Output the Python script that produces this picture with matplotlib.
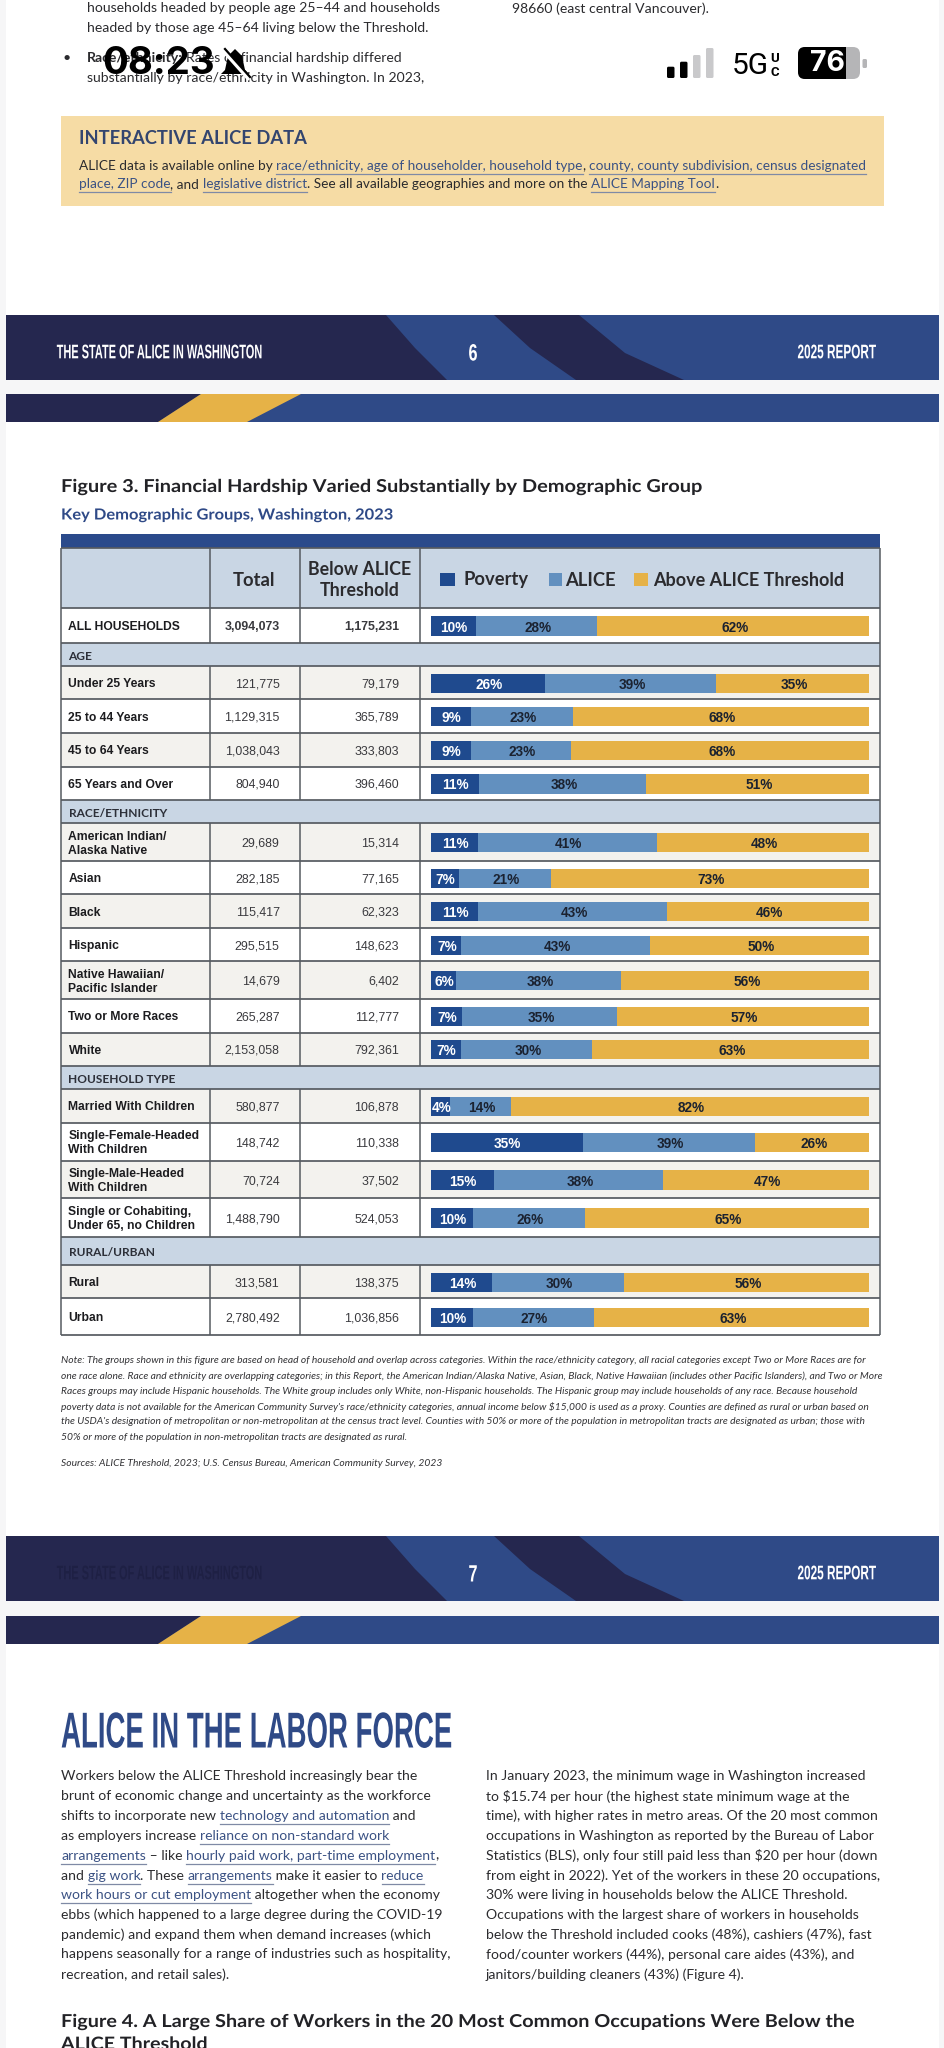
# ALICE report page: Figure 3 table with stacked bars, plus surrounding page furniture
import matplotlib
matplotlib.use("Agg")
import matplotlib.pyplot as plt
from matplotlib.patches import Rectangle, Polygon, FancyBboxPatch
from matplotlib.patheffects import AbstractPathEffect
from matplotlib.transforms import Affine2D

# ---- data ----
GROUPS = ["ALL HOUSEHOLDS", "Under 25 Years", "25 to 44 Years", "45 to 64 Years", "65 Years and Over",
          "American Indian/\nAlaska Native", "Asian", "Black", "Hispanic",
          "Native Hawaiian/\nPacific Islander", "Two or More Races", "White",
          "Married With Children", "Single-Female-Headed\nWith Children",
          "Single-Male-Headed\nWith Children", "Single or Cohabiting,\nUnder 65, no Children",
          "Rural", "Urban"]
TOTALS = ["3,094,073", "121,775", "1,129,315", "1,038,043", "804,940", "29,689", "282,185", "115,417",
          "295,515", "14,679", "265,287", "2,153,058", "580,877", "148,742", "70,724", "1,488,790",
          "313,581", "2,780,492"]
BELOW = ["1,175,231", "79,179", "365,789", "333,803", "396,460", "15,314", "77,165", "62,323",
         "148,623", "6,402", "112,777", "792,361", "106,878", "110,338", "37,502", "524,053",
         "138,375", "1,036,856"]
# bar lengths (the printed labels are rounded)
POVERTY = [10.25, 26.1, 9.1, 9.1, 11.1, 10.9, 6.5, 10.9, 7.0, 5.9, 7.25, 6.9, 4.4, 34.75, 14.5, 9.6, 14.1, 9.6]
ALICE = [27.75, 39.0, 23.4, 23.0, 38.1, 40.6, 20.9, 43.0, 43.1, 37.6, 35.25, 29.9, 14.0, 39.25, 38.5, 25.5, 30.0, 27.6]
ABOVE = [62.0, 34.9, 67.5, 67.9, 50.75, 48.5, 72.6, 46.1, 49.9, 56.5, 57.5, 63.25, 81.6, 26.0, 47.0, 64.9, 55.9, 62.75]
POVERTY_LABELS = [10, 26, 9, 9, 11, 11, 7, 11, 7, 6, 7, 7, 4, 35, 15, 10, 14, 10]
ALICE_LABELS = [28, 39, 23, 23, 38, 41, 21, 43, 43, 38, 35, 30, 14, 39, 38, 26, 30, 27]
ABOVE_LABELS = [62, 35, 68, 68, 51, 48, 73, 46, 50, 56, 57, 63, 82, 26, 47, 65, 56, 63]
SECTIONS = {1: "AGE", 6: "RACE/ETHNICITY", 14: "HOUSEHOLD TYPE", 19: "RURAL/URBAN"}  # table row -> title

# ---- layout, in page pixels ----
W, H = 945, 2048
ROW_EDGES = [608, 643, 666, 699.3, 733.3, 766.7, 800, 823.3, 861, 894.3, 928, 961.3, 999, 1032.7,
             1066, 1089.3, 1122.7, 1160.7, 1198.3, 1236.7, 1265, 1298.3, 1335.3]
TABLE_L, TABLE_R = 61, 880
COLS = [209.5, 300, 419.6]
BAR_L, BAR_R = 430.6, 869.4
BAR_H = 19.3
GREY_ROWS = ["Under 25 Years", "45 to 64 Years", "American Indian/\nAlaska Native", "Black",
             "Native Hawaiian/\nPacific Islander", "White", "Married With Children",
             "Single-Male-Headed\nWith Children", "Rural"]

NAVY = "#25274f"
BLUE = "#2f4a87"
C_POV, C_ALICE, C_ABOVE = "#1f4a8e", "#6290bf", "#e6b247"
HEAD_BG = "#c9d6e4"
LINE = "#565b61"
INK = "#2b2b2e"
LINK = "#3b5284"
SANS = "Liberation Sans"


class Squeeze(AbstractPathEffect):
    # scales a text's glyphs sideways, there is no condensed or spaced face installed
    def __init__(self, sx):
        self.sx = sx

    def draw_path(self, renderer, gc, tpath, affine, rgbFace=None):
        renderer.draw_path(gc, tpath, Affine2D().scale(self.sx, 1) + affine, rgbFace)


fig = plt.figure(figsize=(W / 100, H / 100), dpi=100, facecolor="#f6f6f7")
page = fig.add_axes([0, 0, 1, 1])
page.set_xlim(0, W)
page.set_ylim(H, 0)
page.axis("off")
rend = fig.canvas.get_renderer()


def rect(x0, y0, x1, y1, color, z=1):
    page.add_patch(Rectangle((x0, y0), x1 - x0, y1 - y0, facecolor=color, edgecolor="none", zorder=z))


def txt(x, y, s, size, color=INK, family="Lato", weight="normal", ha="left", va="center", **kw):
    return page.text(x, y, s, fontsize=size, color=color, family=family, weight=weight, ha=ha, va=va, zorder=6, **kw)


def width(s, size, family, weight="normal"):
    # bars around the string so that edge spaces count
    t1 = page.text(0, 0, "|" + s + "|", fontsize=size, family=family, weight=weight)
    t2 = page.text(0, 0, "||", fontsize=size, family=family, weight=weight)
    w = t1.get_window_extent(rend).width - t2.get_window_extent(rend).width
    t1.remove()
    t2.remove()
    return w


def fitted(x0, x1, y, s, size, color, family=SANS):
    # baseline-anchored, scaled sideways to run from x0 to x1
    sx = (x1 - x0) / width(s, size, family, "bold")
    t = txt(x0, y, s, size, color, family=family, weight="bold", va="baseline")
    t.set_path_effects([Squeeze(sx)])


def runs(x, y, parts, size, family="Lato"):
    # parts of a line; the second item marks an underlined link
    for s, is_link in parts:
        w = width(s, size, family)
        txt(x, y, s, size, LINK if is_link else INK, family=family)
        if is_link:
            page.plot([x, x + w], [y + 8, y + 8], color="#7f8aa5", lw=0.9, zorder=5)
        x += w


def band(y0, title, title_color, number):
    y1 = y0 + 65
    rect(6, y0, 938.5, y1, BLUE, 2)
    page.add_patch(Polygon([(6, y0), (386, y0), (415, y0 + 33), (447, y1), (6, y1)], fc=NAVY, ec="none", zorder=3))
    verts = [(494, y0), (530, y0 + 33), (576, y1), (684, y1), (625, y0 + 38), (579, y0), (494, y0)]
    page.add_patch(Polygon(verts, fc=NAVY, ec="none", zorder=3))
    fitted(56.7, 263, y0 + 43.3, title, 14.2, title_color)
    fitted(468.5, 477.5, y0 + 45.5, number, 17, "white")
    fitted(797.5, 876, y0 + 43.3, "2025 REPORT", 14.2, "white")


def strip(y0):
    y1 = y0 + 28
    rect(6, y0, 938.5, y1, BLUE, 2)
    page.add_patch(Polygon([(6, y0), (201, y0), (158, y1), (6, y1)], fc=NAVY, ec="none", zorder=3))
    page.add_patch(Polygon([(201, y0), (301, y0), (247, y1), (158, y1)], fc=C_ABOVE, ec="none", zorder=3))


# ---- white pages between the bands ----
rect(6, 0, 938.5, 380, "white", 0)
rect(6, 422, 938.5, 1601, "white", 0)
rect(6, 1644, 938.5, H, "white", 0)

# ---- text left over from the page above ----
BODY = 10.1
txt(87, 8, "households headed by people age 25\u201344 and households", BODY)
txt(87, 28, "headed by those age 45\u201364 living below the Threshold.", BODY)
txt(63, 58, "\u2022", BODY)
txt(87, 58, "Race/ethnicity:", BODY, weight="bold")
txt(186, 58, "Rates of financial hardship differed", BODY)
txt(87, 78, "substantially by race/ethnicity in Washington. In 2023,", BODY)
txt(512, 9, "98660 (east central Vancouver).", BODY)

# ---- phone status bar over the page ----
txt(102, 64, "08:23", 27.7, "black", family="Inter", weight="bold").set_zorder(8)
page.add_patch(Polygon([(235, 49), (228, 56), (225, 70), (221, 74), (249, 74), (245, 70), (242, 56)], fc="black", ec="none", zorder=8))
page.plot([223, 248], [50, 78], color="white", lw=3, zorder=8)
page.plot([225, 250], [49, 77], color="black", lw=1.6, zorder=8)
for x0, top, col in [(667, 66.7, "black"), (680, 61.7, "black"), (693, 55, "#c9c9cb"), (706, 48, "#c9c9cb")]:
    page.add_patch(FancyBboxPatch((x0 + 1.5, top + 1.5), 4.5, 75 - top, boxstyle="round,pad=1.5", fc=col, ec="none", zorder=8))
txt(731.5, 65.5, "5G", 21.5, "black", family="Roboto").set_zorder(8)
txt(770.5, 58.5, "U", 9.5, "black", family="Roboto", weight="bold").set_zorder(8)
txt(770.5, 72.5, "C", 9.5, "black", family="Roboto", weight="bold").set_zorder(8)
page.add_patch(FancyBboxPatch((805, 54), 48, 18, boxstyle="round,pad=7", fc="#b5b5b7", ec="none", zorder=8))
black_part = FancyBboxPatch((805, 54), 48, 18, boxstyle="round,pad=7", fc="black", ec="none", zorder=8)
page.add_patch(black_part)
black_part.set_clip_path(Rectangle((790, 40), 56, 50, transform=page.transData))
page.add_patch(FancyBboxPatch((864, 60.5), 1.5, 6, boxstyle="round,pad=1.5", fc="#b5b5b7", ec="none", zorder=8))
txt(827.5, 63.5, "76", 20.5, "white", family="Inter", weight="bold", ha="center").set_zorder(9)

# ---- interactive data box ----
rect(61, 115.7, 884, 205.7, "#f6dca5", 1)
txt(79, 138, "INTERACTIVE ALICE DATA", 13.2, "#33456f", weight="bold")
runs(79, 166, [("ALICE data is available online by ", False),
               ("race/ethnicity, age of householder, household type", True), (", ", False),
               ("county, county subdivision, census designated", True)], 9.8)
runs(79, 184, [("place, ZIP code", True), (", and ", False), ("legislative district", True),
               (". See all available geographies and more on the ", False), ("ALICE Mapping Tool", True),
               (".", False)], 9.8)

band(315, "THE STATE OF ALICE IN WASHINGTON", "white", "6")
strip(394)
band(1536, "THE STATE OF ALICE IN WASHINGTON", "#1e2044", "7")
strip(1616)

# ---- figure 3 heading ----
fitted(61, 704, 492, "Figure 3. Financial Hardship Varied Substantially by Demographic Group", 12.8, "#222226", "Lato")
fitted(61, 393, 519.5, "Key Demographic Groups, Washington, 2023", 11, BLUE, "Lato")

# ---- table ----
rect(TABLE_L, 534, TABLE_R, 547.7, "#2a4a8b", 2)
rect(TABLE_L, 547.7, TABLE_R, ROW_EDGES[0], HEAD_BG, 2)
txt(254, 580, "Total", 13.2, weight="bold", ha="center")
txt(360, 569.5, "Below ALICE", 12.8, weight="bold", ha="center")
txt(360, 591, "Threshold", 12.8, weight="bold", ha="center")
rect(440.4, 572.7, 455, 586, C_POV, 3)
txt(463.5, 580, "Poverty", 13.2, weight="bold")
rect(549, 572.7, 562, 586, C_ALICE, 3)
txt(565.5, 580, "ALICE", 13.2, weight="bold")
rect(634, 572.7, 648, 586, C_ABOVE, 3)
txt(652.7, 580, "Above ALICE Threshold", 13, weight="bold")

centres = []
row = 0
for i in range(len(ROW_EDGES) - 1):
    top, bot = ROW_EDGES[i], ROW_EDGES[i + 1]
    if i in SECTIONS:
        rect(TABLE_L, top, TABLE_R, bot, HEAD_BG, 2)
        txt(68.5, (top + bot) / 2 + 1.5, SECTIONS[i], 8.6, "#2c2f38", weight="bold")
        continue
    centre = (top + bot) / 2
    centres.append(centre)
    if GROUPS[row] in GREY_ROWS:
        rect(TABLE_L, top, TABLE_R, bot, "#f3f2ee", 2)
    bold = "bold" if row == 0 else "normal"
    txt(68.5, centre + 1.5, GROUPS[row], 8.7, "#1c1c1f", family=SANS, weight="bold", linespacing=1.2)
    txt(279.7, centre + 1.5, TOTALS[row], 8.9, "#3a3a3e", family=SANS, weight=bold, ha="right")
    txt(399, centre + 1.5, BELOW[row], 8.9, "#3a3a3e", family=SANS, weight=bold, ha="right")
    for c in COLS:
        page.plot([c, c], [top, bot], color=LINE, lw=1.1, zorder=4, solid_capstyle="butt")
    row += 1

for y in ROW_EDGES + [547.7]:
    page.plot([TABLE_L, TABLE_R], [y, y], color=LINE, lw=1.25, zorder=4, solid_capstyle="butt")
for c in COLS:
    page.plot([c, c], [547.7, ROW_EDGES[0]], color=LINE, lw=1.1, zorder=4, solid_capstyle="butt")
for x in [TABLE_L, TABLE_R]:
    page.plot([x, x], [547.7, ROW_EDGES[-1]], color=LINE, lw=1.1, zorder=4, solid_capstyle="butt")

# stacked bars: x is percent of households, y shares the page's pixel scale
bars = fig.add_axes([BAR_L / W, 0, (BAR_R - BAR_L) / W, 1])
bars.set_xlim(0, 100)
bars.set_ylim(H, 0)
bars.axis("off")
bars.patch.set_alpha(0)
ys = [c + 0.5 for c in centres]
left_alice = POVERTY
left_above = [p + a for p, a in zip(POVERTY, ALICE)]
bars.barh(ys, POVERTY, height=BAR_H, color=C_POV)
bars.barh(ys, ALICE, left=left_alice, height=BAR_H, color=C_ALICE)
bars.barh(ys, ABOVE, left=left_above, height=BAR_H, color=C_ABOVE)
for i, y in enumerate(ys):
    lab = dict(fontsize=9.8, family=SANS, weight="bold", ha="center", va="center_baseline")
    bars.text(POVERTY[i] / 2 + 0.2, y, f"{POVERTY_LABELS[i]}%", color="white", **lab)
    bars.text(left_alice[i] + ALICE[i] / 2 + 0.3, y, f"{ALICE_LABELS[i]}%", color="#1b2230", **lab)
    bars.text(left_above[i] + ABOVE[i] / 2 + 0.3, y, f"{ABOVE_LABELS[i]}%", color="#1b2230", **lab)

# ---- notes ----
NOTE_LINES = [
    "Note: The groups shown in this figure are based on head of household and overlap across categories. Within the race/ethnicity category, all racial categories except Two or More Races are for",
    "one race alone. Race and ethnicity are overlapping categories; in this Report, the American Indian/Alaska Native, Asian, Black, Native Hawaiian (includes other Pacific Islanders), and Two or More",
    "Races groups may include Hispanic households. The White group includes only White, non-Hispanic households. The Hispanic group may include households of any race. Because household",
    "poverty data is not available for the American Community Survey's race/ethnicity categories, annual income below $15,000 is used as a proxy. Counties are defined as rural or urban based on",
    "the USDA's designation of metropolitan or non-metropolitan at the census tract level. Counties with 50% or more of the population in metropolitan tracts are designated as urban; those with",
    "50% or more of the population in non-metropolitan tracts are designated as rural.",
]
for k, line in enumerate(NOTE_LINES):
    txt(61, 1360.7 + k * 15.3, line, 7.4, "#333336", style="italic")
txt(61, 1463.3, "Sources: ALICE Threshold, 2023; U.S. Census Bureau, American Community Survey, 2023", 7.4, "#333336", style="italic")

# ---- labor force section ----
fitted(61, 452, 1747.5, "ALICE IN THE LABOR FORCE", 36.3, BLUE)

LINE_Y = [1776.3, 1796.2, 1816.1, 1836, 1855.6, 1875.5, 1895, 1915, 1934.5, 1954.4, 1974.3]
LEFT_COLUMN = [
    [("Workers below the ALICE Threshold increasingly bear the", False)],
    [("brunt of economic change and uncertainty as the workforce", False)],
    [("shifts to incorporate new ", False), ("technology and automation", True), (" and", False)],
    [("as employers increase ", False), ("reliance on non-standard work", True)],
    [("arrangements", True), (" \u2013 like ", False), ("hourly paid work, part-time employment", True), (",", False)],
    [("and ", False), ("gig work", True), (". These ", False), ("arrangements", True), (" make it easier to ", False), ("reduce", True)],
    [("work hours or cut employment", True), (" altogether when the economy", False)],
    [("ebbs (which happened to a large degree during the COVID-19", False)],
    [("pandemic) and expand them when demand increases (which", False)],
    [("happens seasonally for a range of industries such as hospitality,", False)],
    [("recreation, and retail sales).", False)],
]
RIGHT_COLUMN = [
    "In January 2023, the minimum wage in Washington increased",
    "to $15.74 per hour (the highest state minimum wage at the",
    "time), with higher rates in metro areas. Of the 20 most common",
    "occupations in Washington as reported by the Bureau of Labor",
    "Statistics (BLS), only four still paid less than $20 per hour (down",
    "from eight in 2022). Yet of the workers in these 20 occupations,",
    "30% were living in households below the ALICE Threshold.",
    "Occupations with the largest share of workers in households",
    "below the Threshold included cooks (48%), cashiers (47%), fast",
    "food/counter workers (44%), personal care aides (43%), and",
    "janitors/building cleaners (43%) (Figure 4).",
]
for y, parts, line in zip(LINE_Y, LEFT_COLUMN, RIGHT_COLUMN):
    runs(61, y, parts, BODY)
    txt(486, y, line, BODY)

fitted(61, 857, 2027, "Figure 4. A Large Share of Workers in the 20 Most Common Occupations Were Below the", 12.8, "#222226", "Lato")
fitted(61, 208, 2049.5, "ALICE Threshold", 12.8, "#222226", "Lato")

fig.savefig("out.png", dpi=100, facecolor=fig.get_facecolor())
